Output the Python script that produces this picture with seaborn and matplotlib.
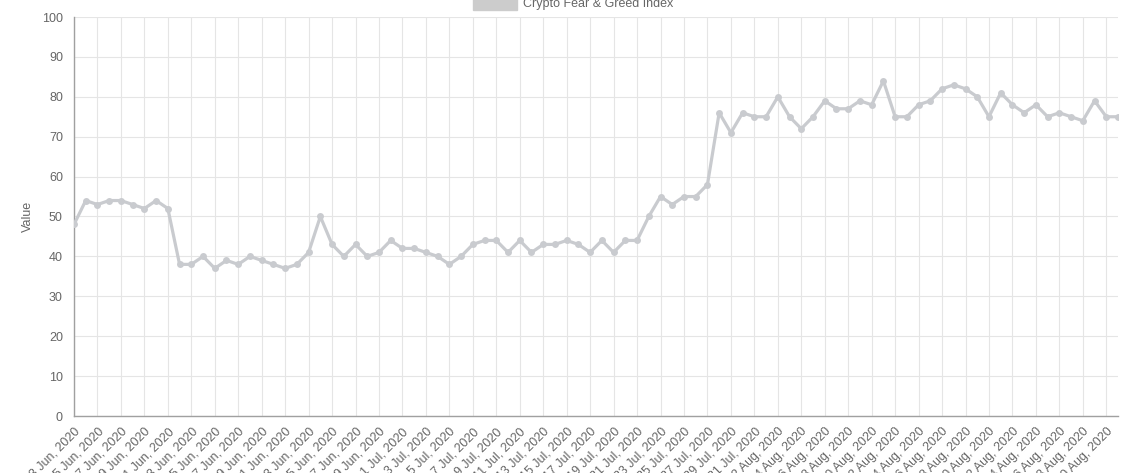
import pandas as pd
import matplotlib
matplotlib.use("Agg")
import matplotlib.pyplot as plt
from matplotlib.patches import Patch
import seaborn as sns

# daily values, 3 Jun 2020 .. 31 Aug 2020
start_date = "2020-06-03"
end_date = "2020-08-31"
series_name = "Crypto Fear & Greed Index"
fng_values = [
    48, 54, 53, 54, 54, 53, 52, 54, 52, 38, 38, 40, 37, 39, 38, 40, 39, 38, 37, 38,
    41, 50, 43, 40, 43, 40, 41, 44,                       # June
    42, 42, 41, 40, 38, 40, 43, 44, 44, 41, 44, 41, 43, 43, 44, 43, 41, 44, 41, 44,
    44, 50, 55, 53, 55, 55, 58, 76, 71, 76, 75,           # July
    75, 80, 75, 72, 75, 79, 77, 77, 79, 78, 84, 75, 75, 78, 79, 82, 83, 82, 80, 75,
    81, 78, 76, 78, 75, 76, 75, 74, 79, 75, 75,           # August
]
y_ticks = list(range(0, 101, 10))

dates = pd.date_range(start_date, end_date, freq="D")
df = pd.DataFrame({"date": dates, "value": fng_values})

sns.set_theme(style="white")
plt.rcParams["font.family"] = ["Liberation Sans", "DejaVu Sans"]

text_col = "#666666"
line_col = "#c9cbcf"
grid_col = "#e5e5e5"

fig = plt.figure(figsize=(11.37, 4.73), dpi=100)
ax = fig.add_axes([74 / 1137, 1 - 416 / 473, (1118 - 74) / 1137, (416 - 17) / 473])

sns.lineplot(data=df, x="date", y="value", ax=ax, color=line_col, linewidth=2.3,
             marker="o", markersize=5, markeredgewidth=0, zorder=3)

ax.set_xlim(dates[0], dates[-1])
ax.set_ylim(0, 100)
ax.set_yticks(y_ticks)

tick_dates = dates[::2]
ax.set_xticks(tick_dates)
ax.set_xticklabels([f"{d.day} {d.strftime('%b')}, {d.year}" for d in tick_dates],
                   rotation=45, ha="right", rotation_mode="anchor")

ax.grid(True, color=grid_col, linewidth=0.8)
ax.set_axisbelow(True)
for side in ["top", "right"]:
    ax.spines[side].set_visible(False)
for side in ["left", "bottom"]:
    ax.spines[side].set_color("#a0a0a0")
    ax.spines[side].set_linewidth(1)

ax.tick_params(axis="both", colors=grid_col, labelcolor=text_col, labelsize=9,
               length=6, width=0.8, pad=2)
ax.tick_params(axis="x", pad=1)

ax.set_xlabel("")
ax.set_ylabel("Value", color=text_col, fontsize=9)
ax.yaxis.set_label_coords(-0.038, 0.5)

handle = Patch(facecolor="#cccccc", edgecolor="#cccccc")
fig.legend([handle], [series_name], loc="center", bbox_to_anchor=(0.504, 1 - 3 / 473),
           frameon=False, handlelength=3.5, handleheight=1.4, handletextpad=0.5,
           fontsize=9, labelcolor=text_col)

fig.savefig("out.png", dpi=100)
